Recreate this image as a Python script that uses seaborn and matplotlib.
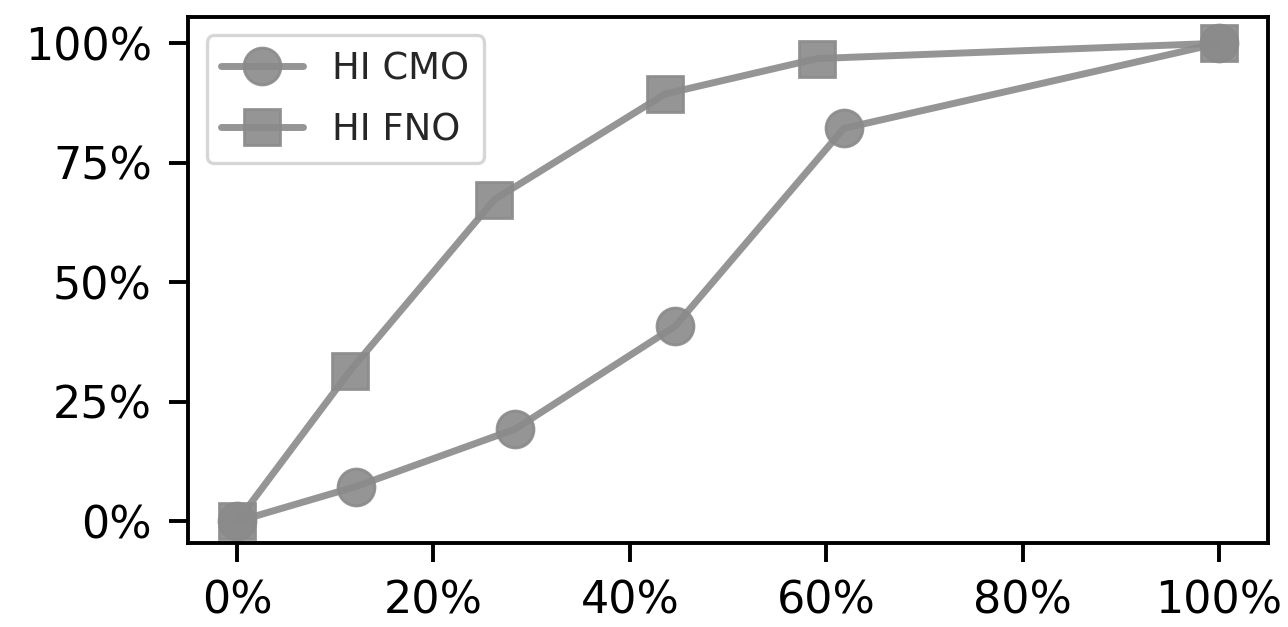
import numpy as np
import pandas as pd
import matplotlib
matplotlib.use('Agg')
import matplotlib.pyplot as plt
import seaborn as sns
from matplotlib.ticker import PercentFormatter

# values
cmo_x = [0.0, 0.121, 0.283, 0.446, 0.618, 1.0]
cmo_y = [0.0, 0.073, 0.193, 0.408, 0.822, 1.0]
fno_x = [0.0, 0.115, 0.262, 0.436, 0.591, 1.0]
fno_y = [0.0, 0.315, 0.673, 0.894, 0.968, 1.0]
series = ['HI CMO', 'HI FNO']

df = pd.concat([
    pd.DataFrame({'x': cmo_x, 'y': cmo_y, 'series': series[0]}),
    pd.DataFrame({'x': fno_x, 'y': fno_y, 'series': series[1]}),
], ignore_index=True)

sns.set_style('ticks')
plt.rcParams['font.family'] = ['DejaVu Sans']

fig, ax = plt.subplots(figsize=(6.44, 3.135), dpi=200)
fig.subplots_adjust(left=0.146, right=0.9845, top=0.973, bottom=0.134)

sns.lineplot(data=df, x='x', y='y', hue='series', style='series',
             markers={'HI CMO': 'o', 'HI FNO': 's'}, dashes=False,
             palette={'HI CMO': '#8a8a8a', 'HI FNO': '#8a8a8a'},
             linewidth=2.5, markersize=13.3, alpha=0.9,
             markeredgewidth=1.0, markeredgecolor='#8a8a8a',
             sort=False, ax=ax)

ax.set_xlim(-0.05, 1.05)
ax.set_ylim(-0.045, 1.055)
ax.set_xticks([0, 0.2, 0.4, 0.6, 0.8, 1.0])
ax.set_yticks([0, 0.25, 0.5, 0.75, 1.0])
ax.xaxis.set_major_formatter(PercentFormatter(1.0, decimals=0))
ax.yaxis.set_major_formatter(PercentFormatter(1.0, decimals=0))
ax.tick_params(labelsize=16, width=1.4, length=7, pad=6, colors='black')
ax.set_xlabel('')
ax.set_ylabel('')
for s in ax.spines.values():
    s.set_color('black')
    s.set_linewidth(1.4)

leg = ax.legend(loc='upper left', fontsize=13.3, frameon=True,
                handlelength=2.2, borderaxespad=0.5, labelspacing=0.65)
leg.get_frame().set_edgecolor('#cccccc')
leg.get_frame().set_linewidth(1.2)

fig.savefig('out.png', dpi=200)
